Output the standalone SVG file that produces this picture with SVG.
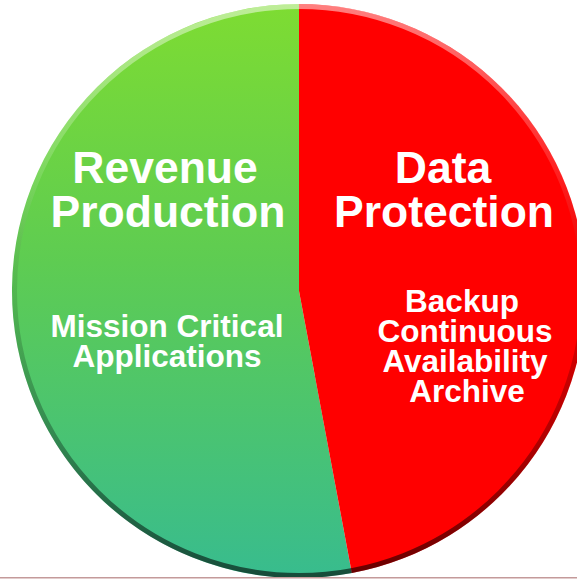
<svg xmlns="http://www.w3.org/2000/svg" width="577" height="580" viewBox="0 0 577 580">
  <defs>
    <linearGradient id="greenGrad" gradientUnits="userSpaceOnUse" x1="0" y1="4" x2="0" y2="578">
      <stop offset="0" stop-color="#7EDC32"/>
      <stop offset="0.45" stop-color="#5ECC52"/>
      <stop offset="1" stop-color="#38BC8E"/>
    </linearGradient>
    <linearGradient id="rimGrad" gradientUnits="userSpaceOnUse" x1="0" y1="4" x2="0" y2="578">
      <stop offset="0" stop-color="#ffffff" stop-opacity="0.5"/>
      <stop offset="0.3" stop-color="#ffffff" stop-opacity="0.12"/>
      <stop offset="0.5" stop-color="#000000" stop-opacity="0.1"/>
      <stop offset="0.75" stop-color="#000000" stop-opacity="0.3"/>
      <stop offset="1" stop-color="#000000" stop-opacity="0.6"/>
    </linearGradient>
    <style>
      .title { font-family: "Liberation Sans", Arial, sans-serif; font-weight: bold; font-size: 44.5px; fill: #ffffff; text-anchor: middle; }
      .body { font-family: "Liberation Sans", Arial, sans-serif; font-weight: bold; font-size: 31.5px; fill: #ffffff; text-anchor: middle; }
    </style>
  </defs>
  <rect x="0" y="0" width="577" height="580" fill="#ffffff"/>
  <g id="revenue-production">
    <path d="M299,291 L351.8,573.1 A287,287 0 1 1 299,4 Z" fill="url(#greenGrad)"/>
  </g>
  <g id="data-protection">
    <path d="M299,291 L299,4 A287,287 0 0 1 351.8,573.1 Z" fill="#FF0000"/>
  </g>
  <g id="rim">
    <circle cx="299" cy="291" r="284.5" fill="none" stroke="url(#rimGrad)" stroke-width="5"/>
  </g>
  <rect x="0" y="577" width="577" height="1.5" fill="#c49a9a"/>
  <g id="revenue-labels">
    <text class="title" x="165" y="183">Revenue</text>
    <text class="title" x="168" y="227">Production</text>
    <text class="body" x="167" y="337">Mission Critical</text>
    <text class="body" x="167" y="367">Applications</text>
  </g>
  <g id="protection-labels">
    <text class="title" x="443" y="183">Data</text>
    <text class="title" x="444" y="227">Protection</text>
    <text class="body" x="462" y="312">Backup</text>
    <text class="body" x="465" y="342">Continuous</text>
    <text class="body" x="465" y="372">Availability</text>
    <text class="body" x="467" y="402">Archive</text>
  </g>
</svg>
